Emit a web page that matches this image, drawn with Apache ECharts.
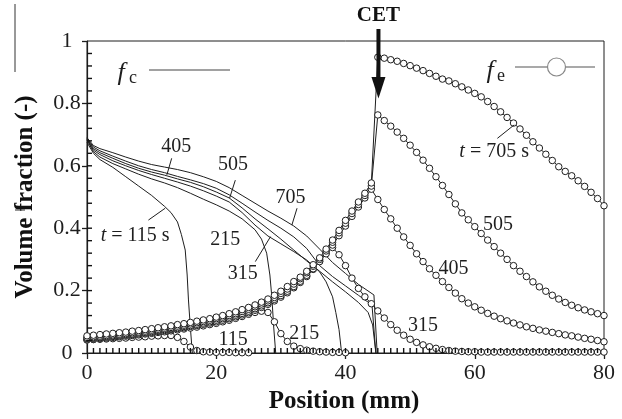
<!DOCTYPE html>
<html><head><meta charset="utf-8">
<script src="https://cdn.jsdelivr.net/npm/echarts@6/dist/echarts.min.js"></script>
<style>html,body{margin:0;padding:0;background:#fff}#c{width:622px;height:419px}</style>
</head><body><div id="c"></div>
<script>
// ---- axes ----
const xTicks = [0, 20, 40, 60, 80];
const yTicks = [0, 0.2, 0.4, 0.6, 0.8, 1];
const xMinorPerMajor = 20;   // minor tick every 1 mm
const yMinorPerMajor = 5;    // minor tick every 0.04

// ---- f_c (solid lines): [position mm, fraction] ----
const fc115 = [[0,0.675],[1,0.64],[2,0.62],[4,0.595],[6,0.565],[8,0.535],[10,0.505],[12,0.47],[13,0.45],[14,0.42],[14.6,0.38],[15.2,0.33],[15.5,0.25],[15.7,0.17],[16,0.08],[16.3,0]];
const fc215 = [[0,0.682],[1,0.645],[2,0.628],[4,0.607],[6,0.59],[8,0.573],[10,0.558],[12,0.545],[14,0.53],[16,0.512],[18,0.493],[20,0.475],[22,0.455],[24,0.43],[26,0.395],[27,0.365],[27.8,0.32],[28.3,0.25],[28.6,0.18],[28.9,0.08],[29.2,0]];
const fc315 = [[0,0.684],[1,0.65],[2,0.636],[4,0.616],[6,0.6],[8,0.585],[10,0.572],[12,0.56],[14,0.548],[16,0.535],[18,0.52],[20,0.503],[22,0.484],[24,0.45],[26,0.41],[28,0.375],[30,0.35],[32,0.325],[34,0.298],[36,0.26],[37,0.228],[38,0.18],[38.5,0.13],[39,0.075],[39.4,0]];
const fc405 = [[0,0.686],[1,0.655],[2,0.642],[4,0.624],[6,0.607],[8,0.592],[10,0.58],[12,0.57],[14,0.558],[16,0.547],[18,0.533],[20,0.516],[22,0.497],[24,0.465],[26,0.43],[28,0.398],[30,0.365],[32,0.33],[34,0.295],[36,0.262],[38,0.228],[40,0.196],[42,0.162],[43.5,0.13],[44.2,0.09],[44.7,0]];
const fc505 = [[0,0.688],[1,0.66],[2,0.648],[4,0.631],[6,0.615],[8,0.6],[10,0.588],[12,0.578],[14,0.566],[16,0.555],[18,0.543],[20,0.528],[22,0.507],[24,0.48],[26,0.452],[28,0.425],[30,0.4],[32,0.372],[34,0.335],[36,0.28],[38,0.245],[40,0.215],[42,0.185],[44.1,0.154],[44.7,0]];
const fc705 = [[0,0.69],[1,0.665],[2,0.655],[4,0.642],[6,0.628],[8,0.615],[10,0.604],[12,0.596],[14,0.588],[16,0.578],[18,0.565],[20,0.55],[22,0.53],[24,0.505],[26,0.48],[28,0.455],[30,0.432],[32,0.407],[34,0.375],[36,0.333],[38,0.29],[40,0.255],[42,0.22],[44.4,0.186],[44.9,0]];

// ---- f_e (circles): value at position 0,1,2,... mm ----
const fe115 = [0.042,0.043,0.044,0.045,0.046,0.047,0.048,0.05,0.051,0.052,0.054,0.055,0.056,0.056,0.05,0.037,0.019,0.008,0.004,0.003,0.002,0.002,0.002,0.001,0.001,0.001];
const fe215 = [0.042,0.044,0.046,0.048,0.05,0.052,0.054,0.056,0.058,0.061,0.063,0.066,0.068,0.071,0.074,0.077,0.08,0.083,0.087,0.091,0.095,0.1,0.105,0.111,0.117,0.124,0.13,0.134,0.13,0.1,0.062,0.037,0.022,0.014,0.009,0.006,0.004,0.003,0.002,0.002,0.001];
const fe315 = [0.045,0.047,0.049,0.051,0.053,0.055,0.057,0.059,0.061,0.064,0.066,0.069,0.072,0.075,0.078,0.081,0.085,0.088,0.092,0.096,0.1,0.105,0.11,0.116,0.122,0.129,0.137,0.146,0.156,0.167,0.179,0.193,0.209,0.226,0.245,0.268,0.295,0.322,0.338,0.315,0.28,0.24,0.207,0.18,0.158,0.135,0.112,0.091,0.073,0.057,0.044,0.034,0.026,0.02,0.015,0.011,0.008,0.006,0.005,0.004,0.004,0.003,0.003,0.003,0.003,0.003,0.003,0.003,0.003,0.003,0.003,0.003,0.003,0.003,0.003,0.003,0.003,0.003,0.003,0.003,0.003];
const fe405 = [0.047,0.049,0.051,0.053,0.055,0.057,0.059,0.061,0.064,0.066,0.069,0.072,0.075,0.078,0.081,0.085,0.088,0.092,0.096,0.1,0.105,0.11,0.115,0.121,0.127,0.134,0.142,0.151,0.161,0.172,0.184,0.198,0.213,0.23,0.249,0.27,0.293,0.318,0.346,0.376,0.407,0.438,0.468,0.497,0.525,0.492,0.46,0.43,0.4,0.372,0.345,0.318,0.293,0.27,0.249,0.229,0.21,0.192,0.174,0.16,0.148,0.137,0.127,0.118,0.11,0.103,0.096,0.09,0.084,0.079,0.074,0.07,0.066,0.062,0.058,0.055,0.051,0.047,0.044,0.04,0.036];
const fe505 = [0.05,0.052,0.054,0.056,0.058,0.06,0.062,0.065,0.067,0.07,0.073,0.076,0.079,0.082,0.086,0.089,0.093,0.097,0.101,0.105,0.11,0.115,0.12,0.126,0.133,0.14,0.148,0.157,0.167,0.178,0.191,0.205,0.221,0.238,0.257,0.278,0.3,0.327,0.355,0.385,0.416,0.447,0.476,0.505,0.535,0.763,0.745,0.727,0.708,0.688,0.666,0.643,0.618,0.592,0.565,0.537,0.508,0.478,0.449,0.427,0.405,0.383,0.362,0.341,0.32,0.3,0.28,0.262,0.245,0.228,0.212,0.198,0.185,0.173,0.162,0.153,0.145,0.138,0.132,0.126,0.12];
const fe705 = [0.055,0.057,0.059,0.061,0.063,0.065,0.067,0.07,0.072,0.075,0.078,0.081,0.084,0.087,0.091,0.094,0.098,0.102,0.106,0.11,0.115,0.12,0.126,0.132,0.139,0.146,0.154,0.163,0.173,0.185,0.198,0.213,0.229,0.243,0.262,0.283,0.305,0.333,0.362,0.393,0.425,0.455,0.484,0.512,0.545,0.948,0.945,0.94,0.935,0.928,0.921,0.913,0.905,0.896,0.887,0.878,0.872,0.863,0.853,0.843,0.832,0.821,0.806,0.79,0.773,0.755,0.737,0.718,0.698,0.677,0.657,0.637,0.617,0.597,0.582,0.568,0.552,0.534,0.515,0.495,0.472];

// ---- annotations (data coordinates) ----
const curveLabels = [
  {t:'405', x:13.8, y:0.662}, {t:'505', x:22.6, y:0.604}, {t:'705', x:31.5, y:0.498},
  {t:'215', x:21.4, y:0.364}, {t:'315', x:24.1, y:0.255},
  {t:'{i|t} = 115 s', x:7.44, y:0.375},
  {t:'{i|t} = 705 s', x:63.0, y:0.646}, {t:'505', x:63.6, y:0.41}, {t:'405', x:56.7, y:0.269},
  {t:'315', x:52.0, y:0.088}, {t:'215', x:33.6, y:0.0625}, {t:'115', x:22.6, y:0.042}
];
const leaders = [
  [13.1,0.624,12.36,0.571], [22.95,0.554,22.06,0.496], [32.5,0.464,31.7,0.41],
  [26.05,0.293,28.4,0.373], [9.5,0.426,12.1,0.464], [63.5,0.688,66.1,0.731]
];
const cetX = 45.1, cetTipY = 0.816;

const serif = '"Liberation Serif","Times New Roman",serif';
const ink = '#1e1e1e';

const chart = echarts.init(document.getElementById('c'), null, {renderer:'canvas'});

function feSeries(arr){
  return {type:'line', data:arr.map((v,i)=>[i,v]), symbol:'circle', symbolSize:6.5,
    showAllSymbol:true, lineStyle:{color:ink,width:1},
    itemStyle:{color:'#fff',borderColor:ink,borderWidth:1}, z:4, silent:true};
}
function fcSeries(arr){
  return {type:'line', data:arr, showSymbol:false, lineStyle:{color:ink,width:1}, z:3, silent:true};
}
const xMin = xTicks[0], xMax = xTicks[xTicks.length-1];
const yMin = yTicks[0], yMax = yTicks[yTicks.length-1];

chart.setOption({
  animation:false,
  backgroundColor:'#fff',
  grid:{left:87, right:18, top:41, bottom:66, show:true, borderColor:ink, borderWidth:1, backgroundColor:'transparent'},
  xAxis:{type:'value', min:xMin, max:xMax, interval:xTicks[1]-xTicks[0],
     axisLine:{lineStyle:{color:ink,width:1.2}}, axisTick:{length:6,lineStyle:{color:ink,width:1.3}},
     axisLabel:{color:ink, fontFamily:serif, fontSize:22, margin:9}, splitLine:{show:false}},
  yAxis:{type:'value', min:yMin, max:yMax, interval:yTicks[1]-yTicks[0],
     axisLine:{show:true, lineStyle:{color:ink,width:1.2}}, axisTick:{show:true, length:5,lineStyle:{color:ink,width:1.3}},
     axisLabel:{color:ink, fontFamily:serif, fontSize:22, margin:20, align:'center'}, splitLine:{show:false}},
  series:[
    fcSeries(fc115), fcSeries(fc215), fcSeries(fc315), fcSeries(fc405), fcSeries(fc505), fcSeries(fc705),
    feSeries(fe115), feSeries(fe215), feSeries(fe315), feSeries(fe405), feSeries(fe505), feSeries(fe705)
  ]
});

const px = p => chart.convertToPixel({gridIndex:0}, p);
const g = [];
// inward minor ticks, positioned through the axis scales
const xStep = (xTicks[1]-xTicks[0])/xMinorPerMajor;
const yStep = (yTicks[1]-yTicks[0])/yMinorPerMajor;
const nx = Math.round((xMax-xMin)/xStep), ny = Math.round((yMax-yMin)/yStep);
for (let i = 1; i < nx; i++) {
  const p = px([xMin + i*xStep, yMin]);
  g.push({type:'line', z:20, silent:true, shape:{x1:p[0], y1:p[1], x2:p[0], y2:p[1]-5}, style:{stroke:'#111', lineWidth:1.4}});
}
for (let i = 1; i < ny; i++) {
  const p = px([xMin, yMin + i*yStep]);
  g.push({type:'line', z:20, silent:true, shape:{x1:p[0], y1:p[1], x2:p[0]+5, y2:p[1]}, style:{stroke:'#111', lineWidth:1.4}});
}
curveLabels.forEach(l=>{
  const p = px([l.x,l.y]);
  g.push({type:'text', x:p[0], y:p[1], z:10, style:{text:l.t, fill:ink, font:'20px '+serif,
    align:'center', verticalAlign:'middle', rich:{i:{fontStyle:'italic', fontSize:20, fontFamily:serif}}}});
});
leaders.forEach(s=>{
  const a = px([s[0],s[1]]), b = px([s[2],s[3]]);
  g.push({type:'line', z:10, shape:{x1:a[0],y1:a[1],x2:b[0],y2:b[1]}, style:{stroke:ink,lineWidth:1}});
});
// CET arrow
const tip = px([cetX, cetTipY]);
g.push({type:'text', x:tip[0], y:16, z:10, style:{text:'CET', fill:'#111', font:'bold 21px '+serif, align:'center', verticalAlign:'middle'}});
g.push({type:'rect', z:10, shape:{x:tip[0]-2, y:29, width:4, height:50}, style:{fill:'#111'}});
g.push({type:'polygon', z:10, shape:{points:[[tip[0]-7,77],[tip[0]+7,77],[tip[0],tip[1]]]}, style:{fill:'#111'}});
// legend
g.push({type:'text', x:121, y:73, z:10, style:{text:'f', fill:ink, font:'italic 26px '+serif, align:'center', verticalAlign:'middle'}});
g.push({type:'text', x:133, y:78, z:10, style:{text:'c', fill:ink, font:'18px '+serif, align:'center', verticalAlign:'middle'}});
g.push({type:'line', z:10, shape:{x1:149,y1:70,x2:230,y2:70}, style:{stroke:'#444',lineWidth:1.2}});
g.push({type:'text', x:490, y:71, z:10, style:{text:'f', fill:ink, font:'italic 26px '+serif, align:'center', verticalAlign:'middle'}});
g.push({type:'text', x:501, y:76, z:10, style:{text:'e', fill:ink, font:'18px '+serif, align:'center', verticalAlign:'middle'}});
g.push({type:'line', z:10, shape:{x1:515,y1:67,x2:595,y2:67}, style:{stroke:'#555',lineWidth:1.2}});
g.push({type:'circle', z:11, shape:{cx:556.5,cy:67,r:9}, style:{fill:'#fff',stroke:'#888',lineWidth:1.2}});
// axis titles
g.push({type:'text', x:344, y:402, z:10, style:{text:'Position (mm)', fill:'#111', font:'bold 25px '+serif, align:'center', verticalAlign:'middle'}});
g.push({type:'text', x:26, y:197, rotation:Math.PI/2, z:10, style:{text:'Volume fraction (-)', fill:'#111', font:'bold 25px '+serif, align:'center', verticalAlign:'middle'}});
// scan artefacts at left edge
g.push({type:'line', z:10, shape:{x1:15,y1:4,x2:15,y2:72}, style:{stroke:'#333',lineWidth:1}});
g.push({type:'line', z:10, shape:{x1:15,y1:210,x2:25,y2:210}, style:{stroke:'#333',lineWidth:1}});
chart.setOption({graphic:g});
</script>
</body></html>
